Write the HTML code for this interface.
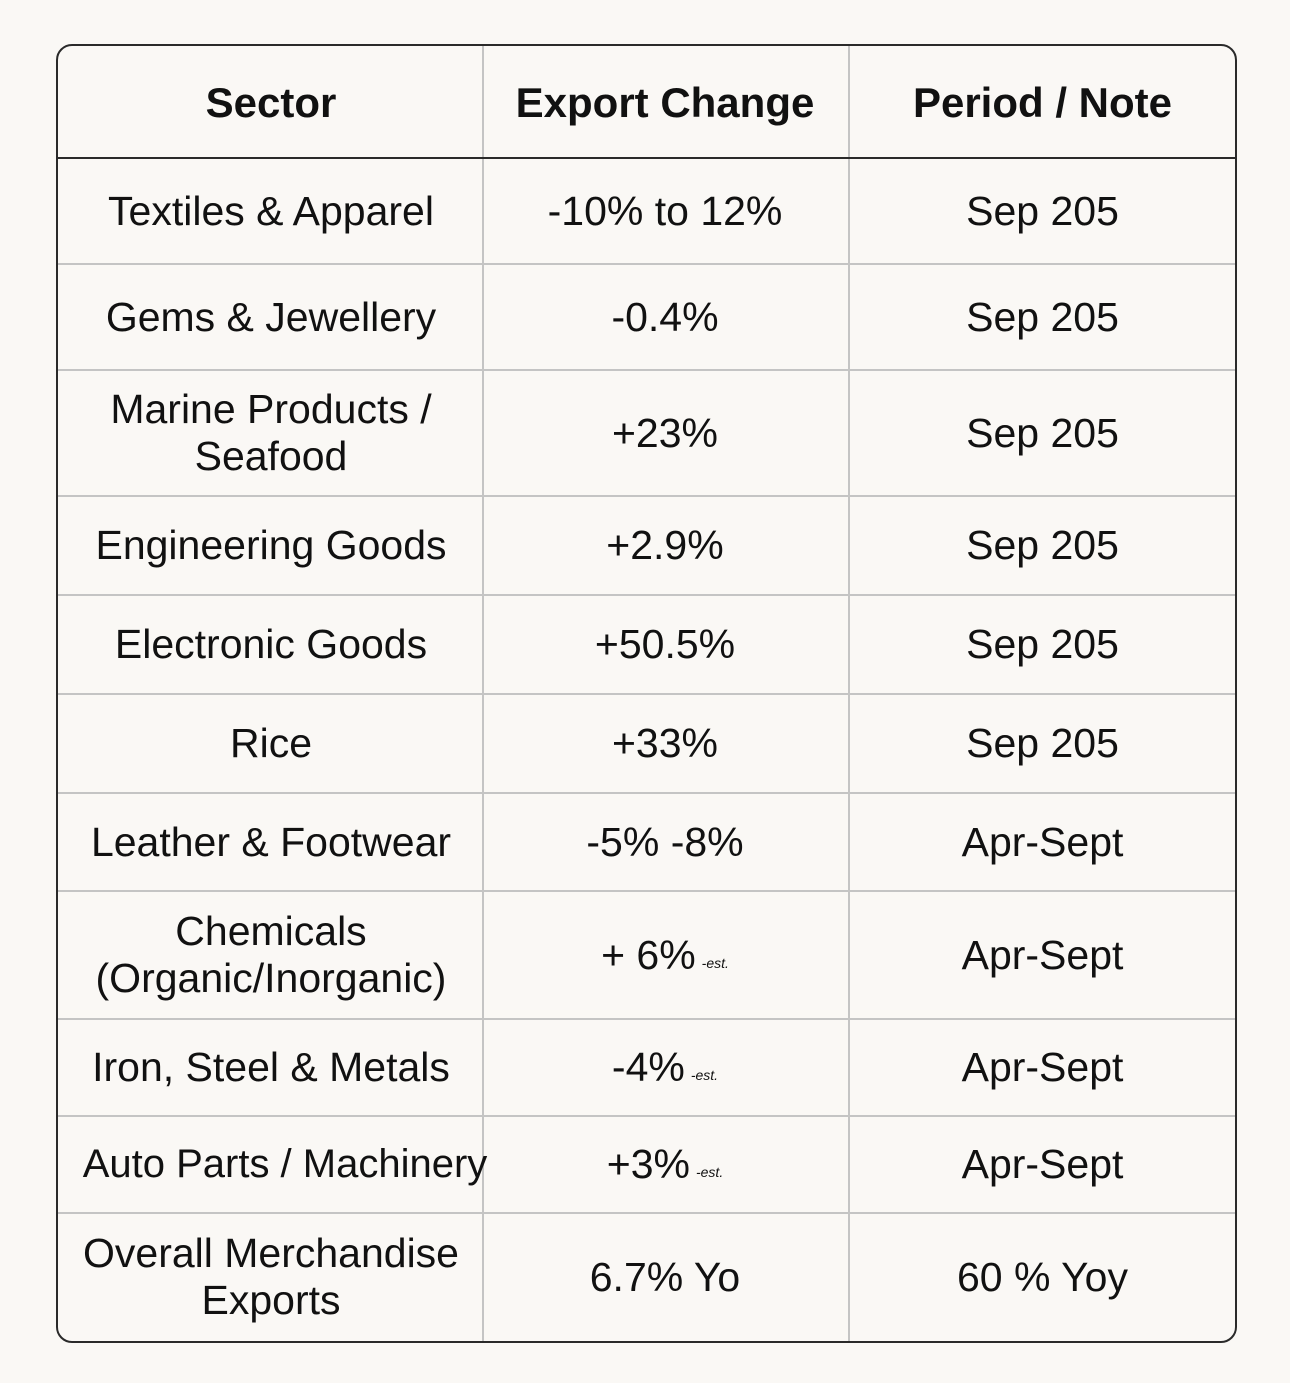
<!DOCTYPE html>
<html><head><meta charset="utf-8"><style>
body{margin:0;background:#faf8f5;width:1290px;height:1383px;position:relative;overflow:hidden;font-family:"Liberation Sans",sans-serif;color:#111}
#tbl{position:absolute;left:56px;top:44px;width:1177px;height:1295px;border:2px solid #2a2a2a;border-radius:16px;box-sizing:content-box}
.h{position:absolute;left:0;width:1177px;height:2px;background:#c4c4c4}
.v{position:absolute;top:0;width:2px;height:1295px;background:#c4c4c4}
.c{position:absolute;display:flex;align-items:center;justify-content:center;text-align:center;font-size:41px;line-height:47px;white-space:nowrap}
.b{font-weight:bold;font-size:42px}
small{font-size:14px;font-style:italic;margin-left:6px;position:relative;top:8px}
</style></head><body>
<div id="tbl"></div>
<script>
const rows=[["Sector","Export Change","Period / Note"],
["Textiles &amp; Apparel","-10% to 12%","Sep 205"],
["Gems &amp; Jewellery","-0.4%","Sep 205"],
["Marine Products /<br>Seafood","+23%","Sep 205"],
["Engineering Goods","+2.9%","Sep 205"],
["Electronic Goods","+50.5%","Sep 205"],
["Rice","+33%","Sep 205"],
["Leather &amp; Footwear","-5% -8%","Apr-Sept"],
["Chemicals<br>(Organic/Inorganic)","+ 6%<small>-est.</small>","Apr-Sept"],
["Iron, Steel &amp; Metals","-4%<small>-est.</small>","Apr-Sept"],
["Auto Parts / Machinery","+3%<small>-est.</small>","Apr-Sept"],
["Overall Merchandise<br>Exports","6.7% Yo","60 % Yoy"]];
const ys=[0,112,218,324,450,549,648,747,845,973,1070,1167,1295];
const xs=[0,426,792,1177];
const t=document.getElementById('tbl');
xs.slice(1,3).forEach(x=>{const d=document.createElement('div');d.className='v';d.style.left=(x-2)+'px';

t.appendChild(d);});
ys.slice(1,12).forEach((y,i)=>{const d=document.createElement('div');d.className='h';d.style.top=(y-1)+'px';if(i==0){d.style.background='#2a2a2a';}

t.appendChild(d);});
const names=['sector','export-change','period-note'];
const off=[0,-2,0];
rows.forEach((r,i)=>{r.forEach((txt,j)=>{const d=document.createElement('div');d.className='c'+(i==0?' b':'');
d.style.left=(xs[j]+off[j])+'px';d.style.width=(xs[j+1]-xs[j])+'px';d.style.top=ys[i]+'px';d.style.height=(ys[i+1]-ys[i])+'px';
if(i==10&&j==0){d.style.left='22px';d.style.width='410px';d.style.fontSize='40px';}
d.innerHTML=txt;

t.appendChild(d);});});
</script>
</body></html>
